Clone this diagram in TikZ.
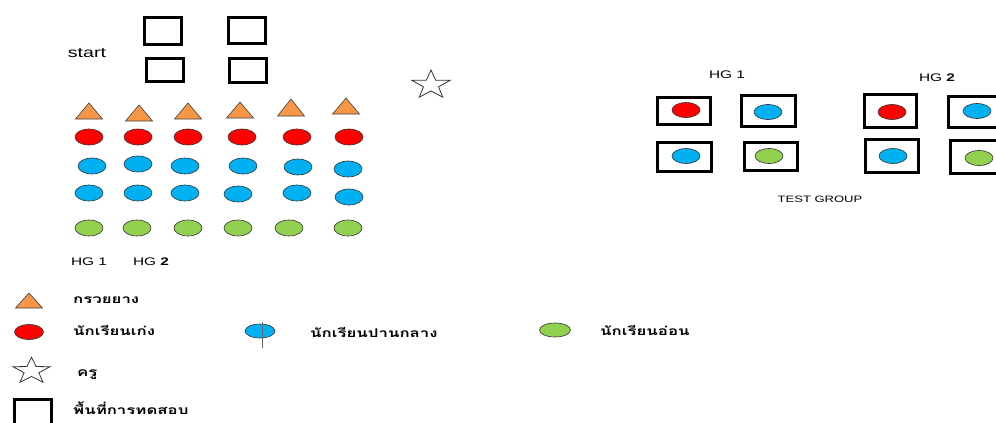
\documentclass[tikz,border=0pt]{standalone}
\usepackage{fontspec}
\setmainfont{Liberation Sans}[FakeStretch=1.4]
\newfontfamily\thai[Script=Thai,FakeStretch=1.4]{Loma}
\usetikzlibrary{shapes.geometric}
\definecolor{tri}{RGB}{247,150,70}
\definecolor{redS}{RGB}{255,0,0}
\definecolor{blueS}{RGB}{0,176,240}
\definecolor{greenS}{RGB}{146,208,80}
\tikzset{
  stud/.style={ellipse, draw=black!80, line width=0.6pt, inner sep=0pt, minimum width=28pt, minimum height=16pt},
  good/.style={stud, fill=redS},
  mid/.style={stud, fill=blueS},
  weak/.style={stud, fill=greenS},
  tstud/.style={minimum height=15pt},
  area/.style={draw=black, line width=3pt},
  cone/.style={draw=black!75, line width=0.6pt, fill=tri},
  teacher/.style={draw=black!80, line width=0.8pt, line join=miter},
  lbl/.style={inner sep=0pt, font=\fontsize{11}{13}\selectfont},
  thl/.style={inner sep=0pt, anchor=west, font=\thai\bfseries\fontsize{12}{14}\selectfont}
}
\newcommand\mycone[3]{\draw[cone] (#1-13.5,#3) -- (#1+13.5,#3) -- (#1,#2) -- cycle;}
\newcommand\mystar[4]{\draw[teacher, shift={(#1,#2)}, xscale=#4]
  (-90:#3) -- (-54:#3*0.4) -- (-18:#3) -- (18:#3*0.4) -- (54:#3) -- (90:#3*0.4)
  -- (126:#3) -- (162:#3*0.4) -- (198:#3) -- (234:#3*0.4) -- cycle;}
\begin{document}
\begin{tikzpicture}[x=1pt,y=-1pt]
\useasboundingbox (0,0) rectangle (996,423);
\clip (0,0) rectangle (996,423);
\fill[white] (0,0) rectangle (996,423);
% start areas
\node[lbl, font=\fontsize{14}{16}\selectfont] (start) at (87,53) {start};
\draw[area] (144.5,17.5) rectangle (181.5,44.5);
\draw[area] (228.5,17.5) rectangle (265.5,43.5);
\draw[area] (146.5,58.5) rectangle (183.5,81.5);
\draw[area] (229.5,58.5) rectangle (266.5,82.5);
% teacher
\mystar{431}{85}{15}{1.33}
% cones
\mycone{89}{103}{119}
\mycone{139}{105}{121}
\mycone{188}{103}{119}
\mycone{240}{102}{118}
\mycone{291}{99}{116}
\mycone{346}{98}{114}
% students
\node[good] (r1) at (89,137) {};
\node[good] (r2) at (138,137) {};
\node[good] (r3) at (188,137) {};
\node[good] (r4) at (242,137) {};
\node[good] (r5) at (297,137) {};
\node[good] (r6) at (349,137) {};
\node[mid] (b1) at (92,166) {};
\node[mid] (b2) at (138,164) {};
\node[mid] (b3) at (185,166) {};
\node[mid] (b4) at (243,166) {};
\node[mid] (b5) at (298,167) {};
\node[mid] (b6) at (348,169) {};
\node[mid] (c1) at (89,193) {};
\node[mid] (c2) at (138,193) {};
\node[mid] (c3) at (185,193) {};
\node[mid] (c4) at (238,194) {};
\node[mid] (c5) at (297,193) {};
\node[mid] (c6) at (349,197) {};
\node[weak] (g1) at (89,228) {};
\node[weak] (g2) at (137,228) {};
\node[weak] (g3) at (188,228) {};
\node[weak] (g4) at (238,228) {};
\node[weak] (g5) at (289,228) {};
\node[weak] (g6) at (348,228) {};
\node[lbl] (hg1) at (89,262) {HG 1};
\node[lbl] (hg2) at (151,262) {HG \textbf{2}};
% test group
\node[lbl] (thg1) at (727,75) {HG 1};
\node[lbl] (thg2) at (937,78) {HG \textbf{2}};
\draw[area] (657.5,97.5) rectangle (710.5,124.5);
\draw[area] (741.5,95.5) rectangle (795.5,126.5);
\draw[area] (657.5,142.5) rectangle (711.5,171.5);
\draw[area] (744.5,142.5) rectangle (797.5,170.5);
\draw[area] (864.5,94.5) rectangle (916.5,127.5);
\draw[area] (948.5,96.5) rectangle (1004,127.5);
\draw[area] (865.5,139.5) rectangle (918.5,172.5);
\draw[area] (950.5,140.5) rectangle (1004,173.5);
\node[good, tstud] (t1) at (686,110) {};
\node[mid, tstud] (t2) at (768,112) {};
\node[mid, tstud] (t3) at (686,156) {};
\node[weak, tstud] (t4) at (769,156) {};
\node[good, tstud] (t5) at (892,112) {};
\node[mid, tstud] (t6) at (977,111) {};
\node[mid, tstud] (t7) at (893,156) {};
\node[weak, tstud] (t8) at (979,158) {};
\node[lbl, font=\fontsize{9.3}{11}\selectfont] (tg) at (820,199) {TEST GROUP};
% legend
\mycone{29}{293}{308}
\node[thl] (l1) at (73,300) {กรวยยาง};
\node[good, minimum width=29pt, minimum height=15pt] (lr) at (29,332) {};
\node[thl] (l2) at (73,330) {นักเรียนเก่ง};
\node[mid, minimum width=30pt, minimum height=14pt] (lb) at (260,331) {};
\coordinate (lbt) at (262,322);
\coordinate (lbb) at (262,348);
\draw[black!60, line width=0.8pt] (lbt) -- (lbb);
\node[thl] (l3) at (310,332) {นักเรียนปานกลาง};
\node[weak, minimum width=31pt, minimum height=14pt] (lg) at (555,330) {};
\node[thl] (l4) at (600,330) {นักเรียนอ่อน};
\mystar{31.5}{371}{13.8}{1.41}
\node[thl] (l5) at (77,375) {ครู};
\draw[area] (14.5,399.5) rectangle (51.5,432);
\node[thl] (l6) at (73,408) {พื้นที่การทดสอบ};
\end{tikzpicture}
\end{document}
